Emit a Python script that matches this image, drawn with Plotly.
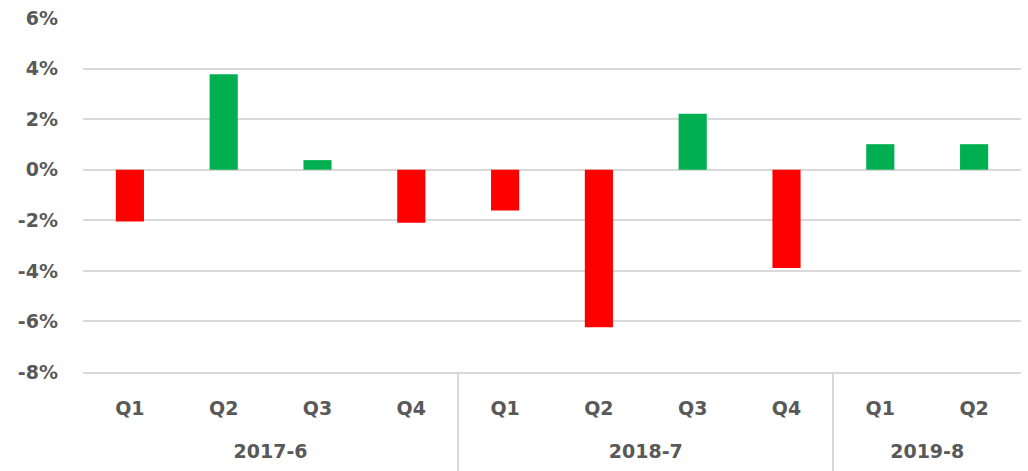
import plotly.graph_objects as go

# Quarterly change, grouped by period
periods = ["2017-6"] * 4 + ["2018-7"] * 4 + ["2019-8"] * 2
quarters = ["Q1", "Q2", "Q3", "Q4", "Q1", "Q2", "Q3", "Q4", "Q1", "Q2"]
changes = [-2.05, 3.78, 0.38, -2.1, -1.61, -6.23, 2.21, -3.89, 1.01, 1.01]

y_ticks = [-8, -6, -4, -2, 0, 2, 4, 6]
y_labels = ["-8%", "-6%", "-4%", "-2%", "0%", "2%", "4%", "6%"]

POS = "#00B050"
NEG = "#FF0000"
TEXT = "#595959"
GRID = "#D9D9D9"

# bar slots along the x axis, and the period groups they fall into
slots = list(range(len(quarters)))
groups = []
for i, p in enumerate(periods):
    if groups and groups[-1][0] == p:
        groups[-1][2] = i
    else:
        groups.append([p, i, i])
group_names = [g[0] for g in groups]
group_centers = [(g[1] + g[2]) / 2 for g in groups]
group_bounds = [groups[0][1] - 0.5] + [g[2] + 0.5 for g in groups]
x_range = [slots[0] - 0.5, slots[-1] + 0.5]
# a hair wider so the outermost dividers are not dropped at the range ends
EDGE = 0.004
divider_range = [x_range[0] - EDGE, x_range[1] + EDGE]

bar_colors = [POS if v >= 0 else NEG for v in changes]

# page geometry (px)
W, H, TOP = 1028, 471, 18
BAND = 99            # label band below the plot area
PERIOD_AXIS_Y = 438  # line the period labels hang from
area_h = H - TOP

font = dict(family="DejaVu Sans", size=19, color=TEXT, weight="bold")

fig = go.Figure()
fig.add_trace(
    go.Bar(
        x=slots,
        y=changes,
        marker=dict(color=bar_colors, line=dict(width=0)),
        width=0.3,
        hoverinfo="y",
    )
)
# empty carriers so the period row and the divider axis get drawn
fig.add_trace(
    go.Scatter(x=group_centers, y=[None] * len(group_centers), mode="markers",
               xaxis="x2", yaxis="y", hoverinfo="skip", showlegend=False)
)
fig.add_trace(
    go.Scatter(x=group_bounds, y=[None] * len(group_bounds), mode="markers",
               xaxis="x3", yaxis="y", hoverinfo="skip", showlegend=False)
)

fig.update_layout(
    width=W,
    height=H,
    margin=dict(l=83, r=7, t=TOP, b=0),
    paper_bgcolor="white",
    plot_bgcolor="white",
    showlegend=False,
    font=font,
    yaxis=dict(
        domain=[BAND / area_h, 1],
        range=[-8, 6],
        tickvals=y_ticks,
        ticktext=y_labels,
        showgrid=True,
        gridcolor=GRID,
        gridwidth=1.5,
        zeroline=False,
        showline=False,
        ticks="",
        ticklabelstandoff=24,
        tickfont=font,
        automargin=False,
    ),
    # quarter row
    xaxis=dict(
        range=x_range,
        tickvals=slots,
        ticktext=quarters,
        showline=True,
        linecolor=GRID,
        linewidth=1.5,
        showgrid=False,
        zeroline=False,
        ticks="",
        ticklabelstandoff=18,
        tickfont=font,
        automargin=False,
    ),
    # period row
    xaxis2=dict(
        overlaying="x",
        anchor="free",
        position=(H - PERIOD_AXIS_Y) / area_h,
        range=x_range,
        tickvals=group_centers,
        ticktext=group_names,
        showline=False,
        showgrid=False,
        zeroline=False,
        ticks="",
        tickfont=font,
        automargin=False,
    ),
    # group dividers, drawn as long ticks rising from the page bottom
    xaxis3=dict(
        overlaying="x",
        anchor="free",
        position=0,
        range=divider_range,
        tickvals=group_bounds,
        showticklabels=False,
        ticks="inside",
        ticklen=BAND,
        tickwidth=1.5,
        tickcolor=GRID,
        showline=False,
        showgrid=False,
        zeroline=False,
        automargin=False,
    ),
)

fig.write_html("out.html")
